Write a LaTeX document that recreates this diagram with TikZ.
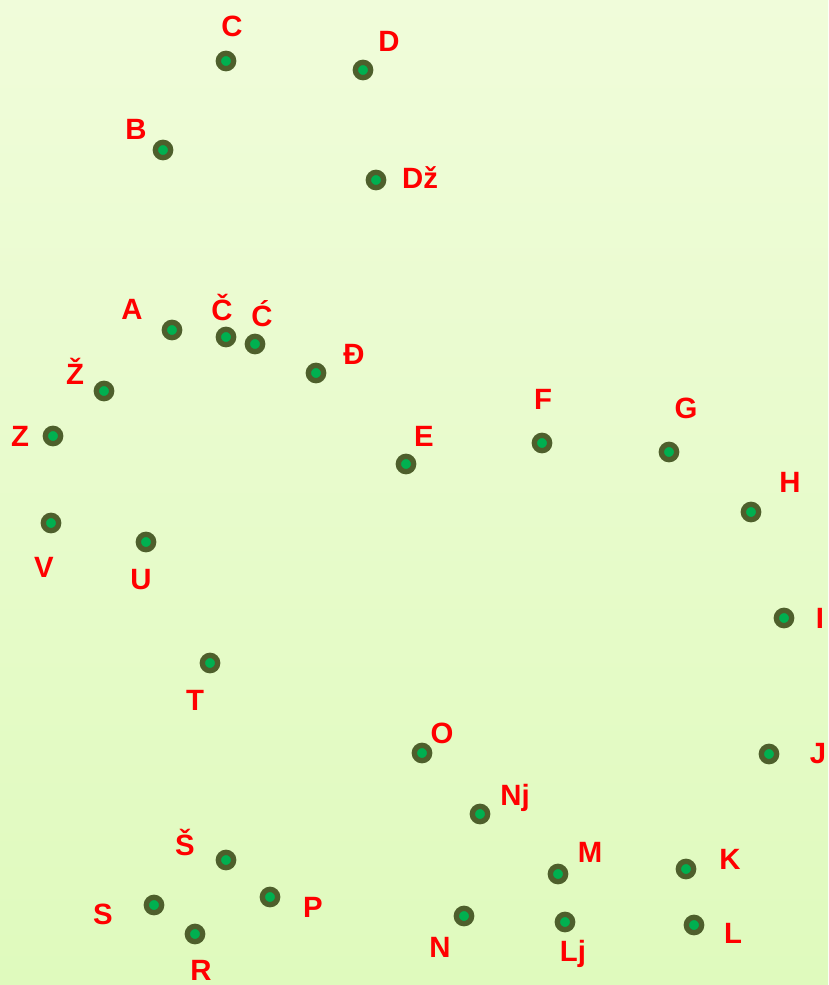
\documentclass[tikz,border=0pt]{standalone}
\usepackage{fontspec}
\setmainfont{Liberation Sans}
\usepackage{xcolor}
\definecolor{ringcol}{HTML}{4E5F2C}
\definecolor{dotcol}{HTML}{00B050}
\definecolor{bgtop}{HTML}{F0FCDA}
\definecolor{bgbot}{HTML}{DFFABD}

\tikzset{
  spot/.style={circle,draw=ringcol,fill=dotcol,line width=4pt,inner sep=0pt,minimum size=11.5pt},
  lbl/.style={text=red,font=\fontsize{22}{22}\selectfont\bfseries,inner sep=0pt}
}

\begin{document}
\begin{tikzpicture}[x=0.75pt,y=-0.75pt]
  \shade[top color=bgtop,bottom color=bgbot] (0,0) rectangle (828,985);
  \useasboundingbox (0,0) rectangle (828,985);
  \foreach \n/\t/\x/\y/\lx/\ly in {
      c/C/226/61/232/26, d/D/363/70/389/41, b/B/163/150/136/129,
      dz/Dž/376/180/420/178, a/A/172/330/132/309, cc/Č/226/337/222/307,
      ca/Ć/255/344/262/314, dj/Đ/316/373/354/354, zh/Ž/104/391/75/371,
      z/Z/53/436/20/436, e/E/406/464/424/436, f/F/542/443/543/399,
      g/G/669/452/686/408, h/H/751/512/790/482, v/V/51/523/44/567,
      u/U/146/542/141/580, i/I/784/618/820/618, t/T/210/663/195/700,
      o/O/422/753/442/733, j/J/769/754/818/754, nj/Nj/480/814/515/798,
      sh/Š/226/860/185/842, m/M/558/874/590/852, k/K/686/869/730/859,
      s/S/154/905/103/914, p/P/270/897/313/907, r/R/195/934/201/970,
      n/N/464/916/440/947, lj/Lj/565/922/573/954, l/L/694/925/733/933}
  {
    \node[spot] (p\n) at (\x,\y) {};
    \node[lbl] (l\n) at (\lx,\ly) {\t};
  }
\end{tikzpicture}
\end{document}
